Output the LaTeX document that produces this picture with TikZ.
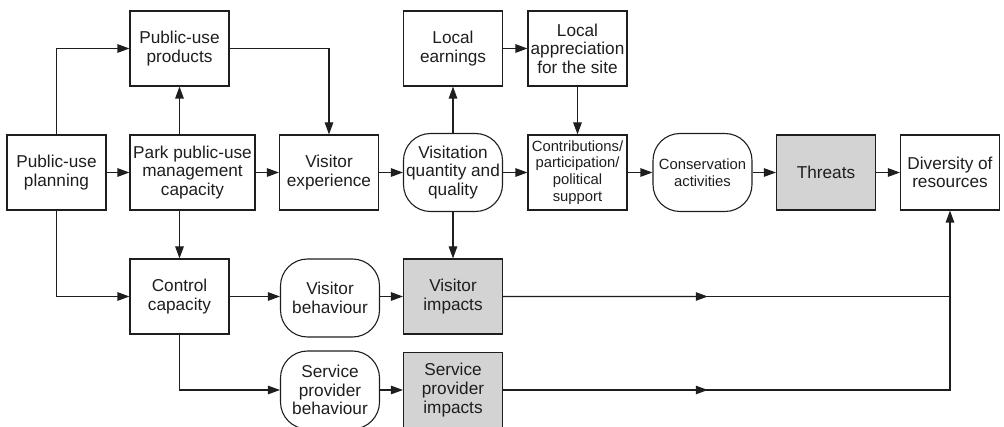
\documentclass[tikz,border=0pt]{standalone}
\usepackage{fontspec}
\setmainfont{Liberation Sans}
\usetikzlibrary{arrows.meta,calc}
\definecolor{ink}{HTML}{1E1E1E}
\definecolor{shade}{HTML}{D3D3D3}
\begin{document}
\begin{tikzpicture}[x=1pt,y=-1pt,
  every node/.style={text=ink},
  box/.style={draw=ink,line width=1.1pt,minimum width=99pt,minimum height=75pt,
    inner sep=0pt,align=center,font=\fontsize{17.2}{18.6}\selectfont},
  rbox/.style={box,rounded corners=27pt,minimum height=78pt},
  gbox/.style={box,fill=shade},
  small/.style={font=\fontsize{14.8}{16.8}\selectfont},
  conn/.style={draw=ink,line width=1.1pt},
  arr/.style={conn,-{Triangle[length=12pt,width=8.5pt]}}]
\useasboundingbox (0,0) rectangle (1004,427);

% top row
\node[box]  (prod) at (179.5,48.5) {Public-use\\products};
\node[box]  (earn) at (453,48.5)   {Local\\earnings};
\node[box]  (appr) at (577.5,48.5) {Local\\appreciation\\for the site};

% main row
\node[box]  (plan)  at (56.5,172.5)  {Public-use\\planning};
\node[box,minimum width=125pt] (park) at (192.5,172.5) {Park public-use\\management\\capacity};
\node[box]  (exp)   at (329,172.5)   {Visitor\\experience};
\node[rbox] (vis)   at (453,172.5)   {Visitation\\quantity and\\quality};
\node[box,small]  (contr) at (577.5,172.5) {Contributions/\\participation/\\political\\support};
\node[rbox,small] (cons)  at (702.5,172.5) {Conservation\\activities};
\node[gbox] (thr)   at (826,172.5)   {Threats};
\node[box]  (div)   at (950,172.5)   {Diversity of\\resources};

% control row
\node[box]  (ctrl) at (179.5,296.5) {Control\\capacity};
\node[rbox] (vbeh) at (330,298)     {Visitor\\behaviour};
\node[gbox] (vimp) at (453,296.5)   {Visitor\\impacts};

% service row
\node[rbox] (sbeh) at (330,390)     {Service\\provider\\behaviour};
\node[gbox] (simp) at (453,390)     {Service\\provider\\impacts};

% junctions on the right
\coordinate (j1) at (950,296.5);
\coordinate (j2) at (950,390);

% planning and management links
\draw[arr] (plan.north) |- (prod.west);
\draw[arr] (plan.south) |- (ctrl.west);
\draw[arr] (plan.east) -- (park.west);
\draw[arr] (prod.south |- park.north) -- (prod.south);
\draw[arr] (prod.east) -| (exp.north);
\draw[arr] (park.east) -- (exp.west);
\draw[arr] (ctrl.north |- park.south) -- (ctrl.north);

% visitation chain
\draw[arr] (exp.east) -- (vis.west);
\draw[arr] (vis.north) -- (earn.south);
\draw[arr] (earn.east) -- (appr.west);
\draw[arr] (appr.south) -- (contr.north);
\draw[arr] (vis.east) -- (contr.west);
\draw[arr] (contr.east) -- (cons.west);
\draw[arr] (cons.east) -- (thr.west);
\draw[arr] (thr.east) -- (div.west);
\draw[arr] (vis.south) -- (vimp.north);

% behaviour and impacts
\draw[arr] (ctrl.east) -- (vbeh.west |- ctrl.east);
\draw[arr] (vbeh.east |- vimp.west) -- (vimp.west);
\draw[arr] (ctrl.south) |- (sbeh.west);
\draw[arr] (sbeh.east) -- (simp.west);

% impacts feeding back to resources
\draw[conn] (vimp.east) -- (j1);
\draw[conn] (simp.east) -- (j2) -- (j1);
\draw[arr] (j1) -- (div.south);
\draw[arr] (vimp.east) -- ($(vimp.east)!0.458!(j1)$);
\draw[arr] (simp.east) -- ($(simp.east)!0.458!(j2)$);
\end{tikzpicture}
\end{document}
